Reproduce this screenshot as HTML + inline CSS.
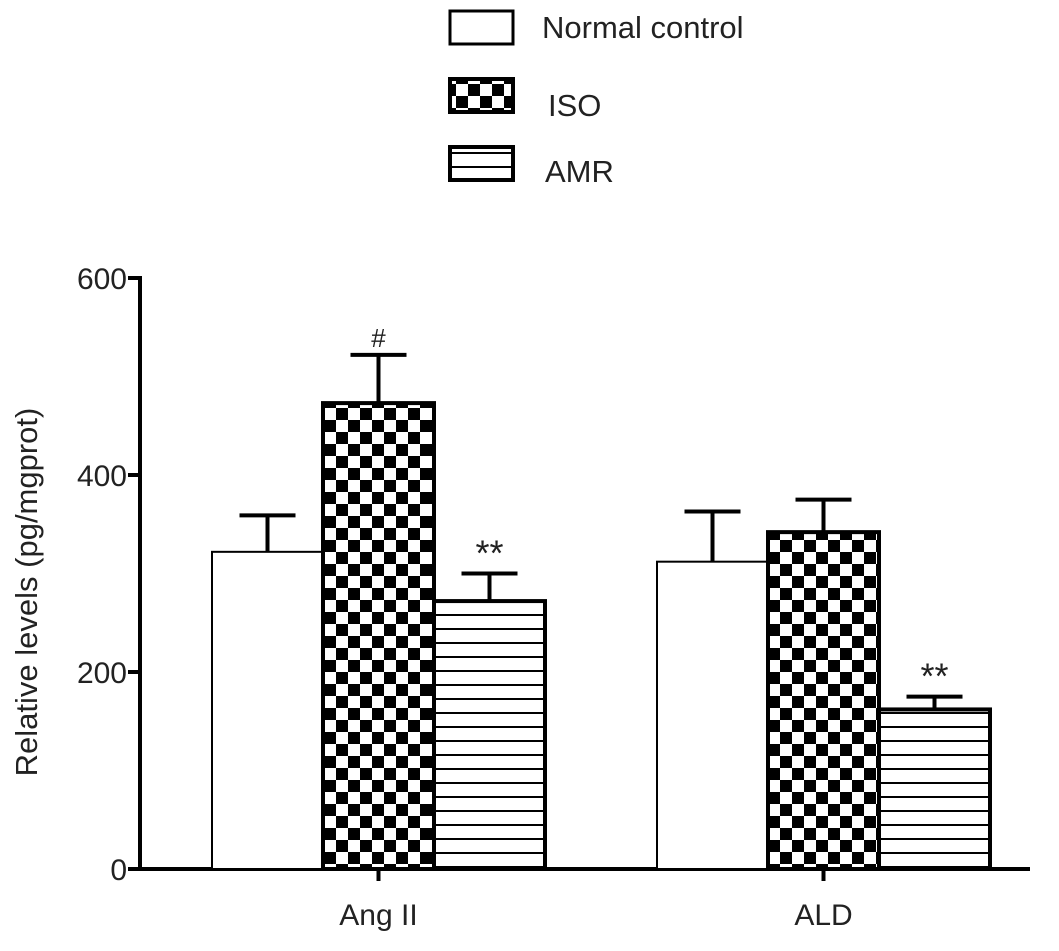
<!DOCTYPE html>
<html><head><meta charset="utf-8"><style>
body{margin:0;background:#fff}
svg text{font-family:"Liberation Sans",Arial,sans-serif;fill:#222}
</style></head><body>
<svg id="c" width="1059" height="946" xmlns="http://www.w3.org/2000/svg">
<defs>
<pattern id="chk" width="24" height="24" patternUnits="userSpaceOnUse" x="0" y="0">
<rect width="24" height="24" fill="#fff"/><rect width="12" height="12" fill="#000"/><rect x="12" y="12" width="12" height="12" fill="#000"/>
</pattern>
<pattern id="hl" width="24" height="14" patternUnits="userSpaceOnUse">
<rect width="24" height="14" fill="#fff"/><rect y="12" width="24" height="2" fill="#000"/>
</pattern>
</defs>
<g id="legend">
<g><rect x="450" y="11" width="63" height="33" fill="#fff" stroke="#000" stroke-width="3"/><text x="542" y="38" font-size="31">Normal control</text></g>
<g><rect x="450" y="79" width="63" height="33" fill="url(#chk)" stroke="#000" stroke-width="4"/><text x="548" y="116" font-size="31">ISO</text></g>
<g><rect x="450" y="147" width="63" height="33" fill="url(#hl)" stroke="#000" stroke-width="4"/><text x="545" y="182" font-size="31">AMR</text></g>
</g>
<g id="plot"></g>
</svg>
<script>
const categories=["Ang II","ALD"];
const seriesNames=["Normal control","ISO","AMR"];
const normalVals=[322,312];
const isoVals=[473,342];
const amrVals=[272,162];
const normalErr=[37,51];
const isoErr=[49,33];
const amrErr=[28,13];
const sigMarks=[["","#","**"],["","","**"]];
const yTicks=[0,200,400,600];
const NS="http://www.w3.org/2000/svg";
const g=document.getElementById('plot');
const y0=869,y600=278,xAxis=140,xEnd=1030;
const y=v=>y0-(v/600)*(y0-y600);
const groupStart=[212,657],barW=111;
function mk(t,a){const e=document.createElementNS(NS,t);for(const k in a)e.setAttribute(k,a[k]);g.appendChild(e);return e;}
let e;
e=mk('line',{x1:xAxis,y1:y600-2,x2:xAxis,y2:y0+2,stroke:'#000','stroke-width':4});


e=mk('line',{x1:xAxis-2,y1:y0,x2:xEnd,y2:y0,stroke:'#000','stroke-width':4});


yTicks.forEach(t=>{
 e=mk('line',{x1:xAxis-12,y1:y(t),x2:xAxis,y2:y(t),stroke:'#000','stroke-width':4});
 
 
 e=mk('text',{x:xAxis-13,y:y(t)+11,'text-anchor':'end','font-size':30});e.textContent=t;
 
 
});
e=mk('text',{x:0,y:0,'font-size':31,'text-anchor':'middle',transform:'translate(37,592) rotate(-90)'});
e.textContent='Relative levels (pg/mgprot)';


const vals=[normalVals,isoVals,amrVals],errs=[normalErr,isoErr,amrErr],fills=['#fff','url(#chk)','url(#hl)'];
categories.forEach((c,ci)=>{
 vals.forEach((s,si)=>{
  const x=groupStart[ci]+si*barW,top=y(s[ci]),et=y(s[ci]+errs[si][ci]);
  const cx=x+barW/2;
  e=mk('line',{x1:cx,y1:top,x2:cx,y2:et,stroke:'#000','stroke-width':4});
  
  
  e=mk('line',{x1:cx-28,y1:et,x2:cx+28,y2:et,stroke:'#000','stroke-width':4});
  
  
  e=mk('rect',{x:x,y:top,width:barW,height:y0-top,fill:fills[si],stroke:'#000','stroke-width':si?4:2});
  
  
  if(sigMarks[ci][si]){
   e=mk('text',{x:cx,y:et-8,'text-anchor':'middle','font-size':sigMarks[ci][si]=='#'?26:36});
   e.textContent=sigMarks[ci][si];
   
   
  }
 });
 const mid=groupStart[ci]+1.5*barW;
 e=mk('line',{x1:mid,y1:y0,x2:mid,y2:y0+12,stroke:'#000','stroke-width':4});
 
 
 e=mk('text',{x:mid,y:y0+56,'text-anchor':'middle','font-size':30});e.textContent=c;
 
 
});
</script>
</body></html>
